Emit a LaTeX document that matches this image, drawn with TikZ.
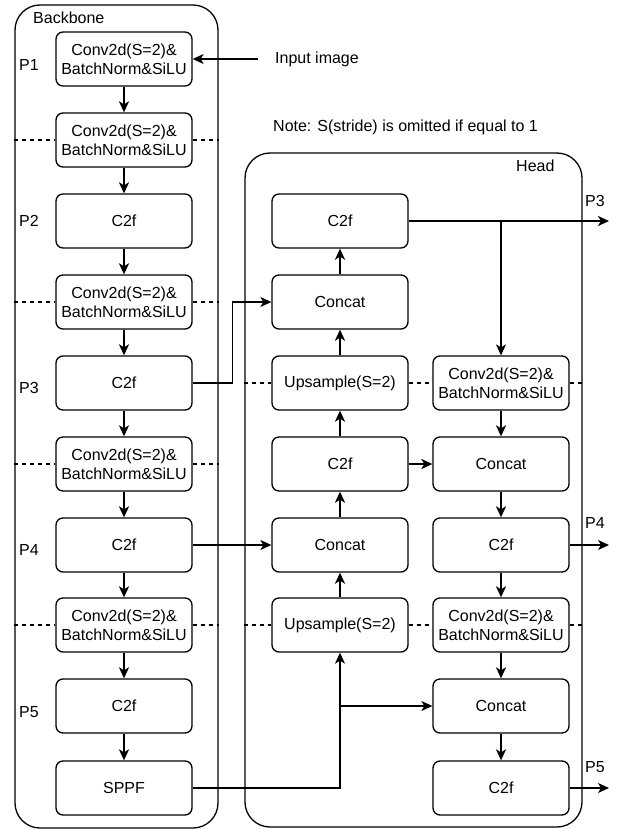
\documentclass[tikz,border=0pt]{standalone}
\usepackage{fontspec}
\setmainfont{Liberation Sans}
\usetikzlibrary{arrows.meta}
\begin{document}
\begin{tikzpicture}[x=1pt,y=-1pt,
  font=\fontsize{16}{19}\selectfont,
  group/.style={draw, line width=1.3pt, rounded corners=25pt, inner sep=0pt},
  block/.style={draw, line width=1.3pt, rounded corners=7pt, align=center,
    minimum width=136pt, minimum height=54pt, inner sep=0pt},
  tip/.style={-{Stealth[length=11pt,width=10pt,inset=3pt]}},
  flow/.style={tip, line width=2pt},
  link/.style={tip, line width=1.3pt},
  split/.style={dashed, dash pattern=on 4pt off 4pt, line width=1.1pt},
  lbl/.style={anchor=west, inner sep=0pt}]
\useasboundingbox (0,0) rectangle (617,830);

% containers
\node[group, minimum width=203pt, minimum height=823pt] (bb) at (116.5,416.5) {};
\node[group, minimum width=337pt, minimum height=674pt] (hd) at (413.5,490) {};
\node[lbl] (bbt) at (33,18) {Backbone};
\node[lbl] (hdt) at (516,166) {Head};

% backbone column
\node[block] (b1)  at (124,59)  {Conv2d(S=2)\&\\BatchNorm\&SiLU};
\node[block] (b2)  at (124,140) {Conv2d(S=2)\&\\BatchNorm\&SiLU};
\node[block] (b3)  at (124,221) {C2f};
\node[block] (b4)  at (124,302) {Conv2d(S=2)\&\\BatchNorm\&SiLU};
\node[block] (b5)  at (124,383) {C2f};
\node[block] (b6)  at (124,464) {Conv2d(S=2)\&\\BatchNorm\&SiLU};
\node[block] (b7)  at (124,545) {C2f};
\node[block] (b8)  at (124,625) {Conv2d(S=2)\&\\BatchNorm\&SiLU};
\node[block] (b9)  at (124,706) {C2f};
\node[block] (b10) at (124,788) {SPPF};

% stage labels
\node[lbl] (p1) at (19,65)  {P1};
\node[lbl] (p2) at (19,221) {P2};
\node[lbl] (p3) at (19,388) {P3};
\node[lbl] (p4) at (19,550) {P4};
\node[lbl] (p5) at (19,712) {P5};

% head, upward path
\node[block] (l1) at (340,221) {C2f};
\node[block] (l2) at (340,302) {Concat};
\node[block] (l3) at (340,383) {Upsample(S=2)};
\node[block] (l4) at (340,464) {C2f};
\node[block] (l5) at (340,545) {Concat};
\node[block] (l6) at (340,625) {Upsample(S=2)};

% head, downward path
\node[block] (r1) at (501,383) {Conv2d(S=2)\&\\BatchNorm\&SiLU};
\node[block] (r2) at (501,464) {Concat};
\node[block] (r3) at (501,545) {C2f};
\node[block] (r4) at (501,625) {Conv2d(S=2)\&\\BatchNorm\&SiLU};
\node[block] (r5) at (501,706) {Concat};
\node[block] (r6) at (501,788) {C2f};

% input and note
\node[lbl] (inp) at (275,59) {Input image};
\coordinate (inpend) at (258,59);
\node[lbl] (note) at (273,127) {Note: S(stride) is omitted if equal to 1};

% output labels and ends
\node[lbl] (o3) at (585,201) {P3};
\node[lbl] (o4) at (585,523) {P4};
\node[lbl] (o5) at (585,767) {P5};
\coordinate (e3) at (609,221);
\coordinate (e4) at (609,545);
\coordinate (e5) at (609,788);

% resolution boundaries
\foreach \n in {b2,b4,b6,b8}{
  \draw[split] (bb.west |- \n.west) -- (\n.west);
  \draw[split] (\n.east) -- (bb.east |- \n.east);
}
\foreach \a/\b in {l3/r1,l6/r4}{
  \draw[split] (hd.west |- \a.west) -- (\a.west);
  \draw[split] (\a.east) -- (\b.west);
  \draw[split] (\b.east) -- (hd.east |- \b.east);
}

% backbone flow
\draw[link] (inpend) -- (b1.east);
\foreach \a/\b in {b1/b2,b2/b3,b3/b4,b4/b5,b5/b6,b6/b7,b7/b8,b8/b9,b9/b10}
  \draw[flow] (\a) -- (\b);

% head flow
\foreach \a/\b in {l6/l5,l5/l4,l4/l3,l3/l2,l2/l1,l4/r2,r1/r2,r2/r3,r3/r4,r4/r5,r5/r6}
  \draw[flow] (\a) -- (\b);

% cross connections
\draw[link] (b5.east) -- ++(40,0) |- (l2.west);
\draw[link] (b7.east) -- (l5.west);
\draw[link] (b10.east) -| (l6.south);
\draw[link] (l6.south |- r5.west) -- (r5.west);
\draw[flow] (l1.east) -- (e3);
\draw[link] (l1.east -| r1.north) -- (r1.north);
\draw[link] (r3.east) -- (e4);
\draw[link] (r6.east) -- (e5);
\end{tikzpicture}
\end{document}
